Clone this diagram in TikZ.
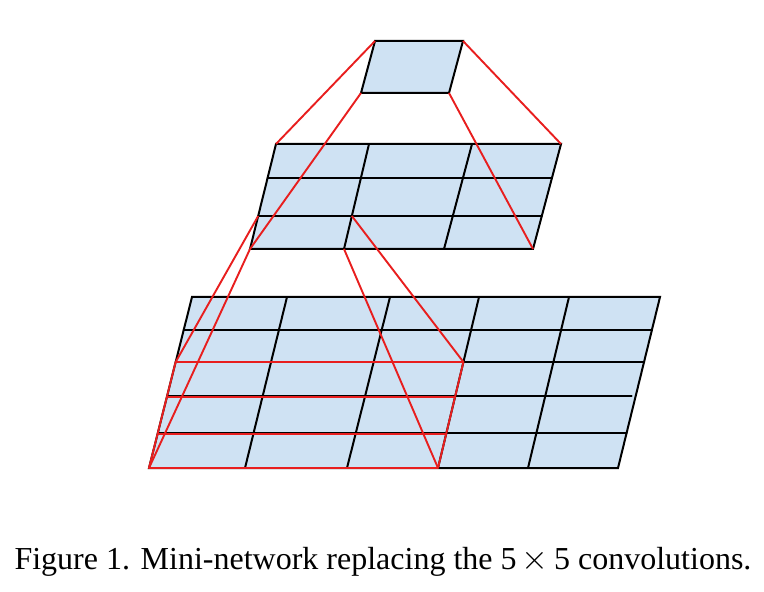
\documentclass[tikz,border=0pt]{standalone}
\usepackage{fontspec}
\setmainfont{Liberation Serif}
\usepackage{tikz}
\usetikzlibrary{calc}
\definecolor{cellblue}{RGB}{207, 226, 243}
\definecolor{fieldred}{RGB}{232, 30, 30}
\tikzset{
    gridline/.style={black, line width=1pt, line cap=round},
    cellfill/.style={fill=cellblue, draw=none},
    field/.style={fieldred, line width=0.95pt, line join=round},
    caption/.style={font=\fontsize{16}{19}\selectfont, anchor=base},
}
\begin{document}
\begin{tikzpicture}[x=0.5pt, y=-0.5pt]
        \useasboundingbox (0,0) rectangle (764,592);
        % top unit
        \coordinate (t-tl) at (375,41);
        \coordinate (t-tr) at (463,41);
        \coordinate (t-br) at (449,93);
        \coordinate (t-bl) at (361,93);
        \fill[cellfill] (t-tl) -- (t-tr) -- (t-br) -- (t-bl) -- cycle;
        \draw[gridline] (t-tl) -- (t-tr) -- (t-br) -- (t-bl) -- cycle;
        % middle 3x3
        \coordinate (m-tl) at (276,144);
        \coordinate (m-tr) at (561,144);
        \coordinate (m-br) at (533,249);
        \coordinate (m-bl) at (250,249);
        \fill[cellfill] (m-tl) -- (m-tr) -- (m-br) -- (m-bl) -- cycle;
        \foreach \xt/\xb in {369/344, 472/444}
            \draw[gridline] (\xt,144) -- (\xb,249);
        \foreach \y in {178,216}
            \draw[gridline] ({276-26*(\y-144)/105},\y) -- ({561-28*(\y-144)/105},\y);
        \draw[gridline] (m-tl) -- (m-tr) -- (m-br) -- (m-bl) -- cycle;
        \coordinate (m-ca) at ({276-26*72/105},216);
        \coordinate (m-cb) at ({369-25*72/105},216);
        \coordinate (m-cc) at (344,249);
        % bottom 5x5
        \coordinate (b-tl) at (192,297);
        \coordinate (b-tr) at (660,297);
        \coordinate (b-br) at (618,468);
        \coordinate (b-bl) at (149,468);
        \fill[cellfill] (b-tl) -- (b-tr) -- (b-br) -- (b-bl) -- cycle;
        \foreach \xt/\xb in {287/245, 390/347, 479/438, 569/528}
            \draw[gridline] (\xt,297) -- (\xb,468);
        \foreach \y in {330,362,433}
            \draw[gridline] ({192-43*(\y-297)/171},\y) -- ({660-42*(\y-297)/171},\y);
        \draw[gridline] ({192-43*99/171},396) -- ({656-42*99/171},396);
        \draw[gridline] (b-tl) -- (b-tr) -- (b-br) -- (b-bl) -- cycle;
        % receptive field
        \coordinate (f-tl) at ({192-43*65/171},362);
        \coordinate (f-tr) at ({479-41*65/171},362);
        \coordinate (f-br) at (438,468);
        \coordinate (f-bl) at (b-bl);
        \draw[field] (f-tl) -- (f-tr) -- (f-br) -- (f-bl) -- cycle;
        \foreach \y in {397,434}
            \draw[field] ({192-43*(\y-297)/171},\y) -- ({479-41*(\y-297)/171},\y);
        \draw[field] (t-tl) -- (m-tl);
        \draw[field] (t-tr) -- (m-tr);
        \draw[field] (t-bl) -- (m-bl);
        \draw[field] (t-br) -- (m-br);
        \draw[field] (m-ca) -- (f-tl);
        \draw[field] (m-cb) -- (f-tr);
        \draw[field] (m-bl) -- (f-bl);
        \draw[field] (m-cc) -- (f-br);
        \node[caption] (cap) at (383,569) {Figure 1. Mini-network replacing the 5\,$\times$\,5 convolutions.};
    \end{tikzpicture}
\end{document}
